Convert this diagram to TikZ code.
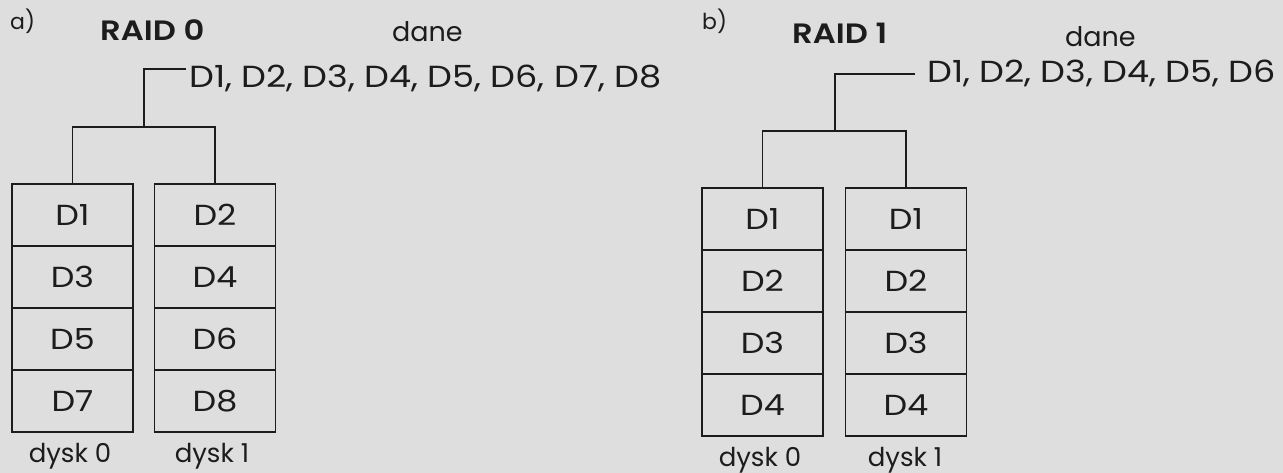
\documentclass[tikz,border=0pt]{standalone}
\usepackage{fontspec}
\setmainfont{Poppins}[BoldFont={Poppins SemiBold}]
\newfontfamily\widefont{Poppins}[FakeStretch=1.15,BoldFont={Poppins SemiBold}]
\definecolor{paper}{RGB}{222,222,222}
\definecolor{ink}{RGB}{28,28,28}
\begin{document}
\begin{tikzpicture}[x=1pt,y=-1pt,
  txt/.style={inner sep=0pt,text=ink,anchor=base west},
  tag/.style={txt,font=\fontsize{22}{22}\selectfont},
  title/.style={txt,font=\widefont\fontsize{28}{28}\selectfont\bfseries},
  head/.style={txt,font=\fontsize{27}{27}\selectfont},
  datatext/.style={txt,font=\widefont\fontsize{30.5}{30.5}\selectfont},
  disklabel/.style={inner sep=0pt,text=ink,anchor=base,font=\fontsize{26}{26}\selectfont},
  cell/.style={draw=ink,line width=1.1pt,minimum width=121pt,minimum height=62pt,
    inner sep=0pt,text=ink,font=\widefont\fontsize{29}{29}\selectfont},
  wire/.style={draw=ink,line width=1.1pt}]
\fill[paper] (0,0) rectangle (1283,473);
\useasboundingbox (0,0) rectangle (1283,473);

% ---------- a) RAID 0 : striping ----------
\node[tag]   (tagA)   at (10,30)  {a)};
\node[title] (titleA) at (100,41) {RAID 0};
\node[head]  (daneA)  at (392,42) {dane};
\node[datatext] (dataA) at (189,88) {D1, D2, D3, D4, D5, D6, D7, D8};
\coordinate (inA) at (186,69);
\coordinate (jA)  at (144,127);

\foreach \r/\l/\rr in {1/D1/D2,2/D3/D4,3/D5/D6,4/D7/D8}{
  \node[cell] (a0-\r) at (72.5,{184+31+62*(\r-1)}) {\l};
  \node[cell] (a1-\r) at (215,{184+31+62*(\r-1)}) {\rr};
}
\node[disklabel] (dA0) at (70,462)  {dysk 0};
\node[disklabel] (dA1) at (212,462) {dysk 1};

\draw[wire] (inA) -| (jA);
\draw[wire] (a0-1.north) |- (jA) -| (a1-1.north);

% ---------- b) RAID 1 : mirroring ----------
\node[tag]   (tagB)   at (702,30)  {b)};
\node[title] (titleB) at (792,44)  {RAID 1};
\node[head]  (daneB)  at (1065,47) {dane};
\node[datatext] (dataB) at (927,83) {D1, D2, D3, D4, D5, D6};
\coordinate (inB) at (915,74);
\coordinate (jB)  at (835,131);

\foreach \r/\l in {1/D1,2/D2,3/D3,4/D4}{
  \node[cell] (b0-\r) at (762.5,{188+31+62*(\r-1)}) {\l};
  \node[cell] (b1-\r) at (906,{188+31+62*(\r-1)}) {\l};
}
\node[disklabel] (dB0) at (760,466) {dysk 0};
\node[disklabel] (dB1) at (905,466) {dysk 1};

\draw[wire] (inB) -| (jB);
\draw[wire] (b0-1.north) |- (jB) -| (b1-1.north);
\end{tikzpicture}
\end{document}
